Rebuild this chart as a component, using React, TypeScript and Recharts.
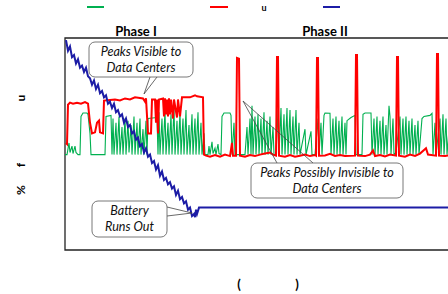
import { LineChart, Line, XAxis, YAxis, ReferenceArea } from "recharts";

// t = minutes since start, v = percent
const greenPts: [number, number][] = [
  [0, 45], [2, 45], [4, 50.5], [5, 46], [7, 49], [8, 45.5], [10, 49], [11, 46], [13, 45], [15, 45],
  [16, 63], [18, 64.6], [22, 64.6], [23, 64], [25, 55], [26, 45], [40, 45], [41, 63], [46, 63.5],
  [47, 45], [48, 62], [49, 45], [51, 60], [52, 45], [54, 63], [55, 45], [57, 58], [58, 45], [60, 62],
  [61, 45], [63, 61], [64, 46], [66, 59], [67, 45], [69, 63], [70, 45], [72, 60], [73, 45], [75, 62],
  [76, 45], [78, 57], [79, 45], [81, 61], [82, 45], [83, 62], [92, 62.5], [93, 45],
  [94, 65], [95, 45], [97, 62], [98, 45], [100, 66], [101, 45], [103, 60], [104, 45], [106, 64],
  [107, 45], [109, 67], [110, 45], [112, 61], [113, 45], [115, 65], [116, 45], [118, 62], [119, 45],
  [121, 66], [122, 45], [124, 59], [125, 45], [127, 64], [128, 45], [130, 62], [131, 45], [133, 65],
  [134, 45], [136, 60], [137, 45], [139, 55], [140, 45],
  [143, 45], [144, 49], [145, 45], [147, 51], [148, 45.5], [150, 48], [151, 45], [153, 50], [154, 45.5],
  [156, 45], [157, 63], [159, 64.6], [165, 64.6], [166, 63.5], [167, 45], [169, 60], [170, 45],
  [180, 45], [182, 58], [183, 45], [185, 62], [186, 45], [187, 68], [188, 45], [190, 63], [191, 45],
  [193, 64], [194, 45], [196, 62], [197, 45], [199, 65], [200, 45], [202, 61], [203, 45], [205, 63],
  [206, 45], [208, 58], [209, 45], [211, 45], [213, 66], [214, 45], [216, 67], [217, 45], [219, 64],
  [220, 45], [222, 67], [223, 45], [225, 66], [226, 45], [228, 63], [229, 45], [231, 66], [232, 45],
  [234, 60], [235, 45], [240, 57], [241, 45], [246, 56], [247, 45], [250, 45], [253, 62], [254, 45],
  [256, 60], [257, 45], [259, 63.5], [260, 64.6], [265, 64.5], [266, 45], [268, 62], [269, 45],
  [271, 63], [272, 45], [274, 61], [275, 45], [277, 63], [278, 45], [280, 60], [281, 45], [282, 61],
  [286, 62.5], [290, 63.5], [291, 45], [297, 45], [298, 64], [300, 64.6], [306, 64.6], [307, 45],
  [309, 62], [310, 45], [312, 63], [313, 45], [315, 61], [316, 45], [318, 63], [319, 45], [321, 59],
  [322, 45], [324, 68], [325, 63], [326, 45], [328, 62], [329, 45], [331, 46], [335, 63], [336, 45],
  [338, 62], [339, 45], [341, 63], [342, 45], [344, 61], [345, 45], [347, 62], [348, 45], [350, 59],
  [351, 45], [353, 61], [354, 45], [357, 62], [359, 63], [365, 63.5], [367, 64.5], [368, 45],
  [370, 60], [371, 45], [375, 62], [376, 45], [378, 64], [379, 45], [381, 62], [382, 45], [385, 63],
  [386, 45], [395, 45],
];

const redPts: [number, number][] = [
  [1, 50.5], [2, 50], [3, 68.5], [5, 69.5], [8, 69], [12, 69.5], [16, 69], [20, 69.8], [23, 69],
  [25, 60], [27, 55], [30, 55.5], [32, 60], [34, 61], [35, 55.5], [38, 55], [39, 70.5], [45, 70.8],
  [50, 71], [55, 70.5], [60, 71.5], [65, 71], [70, 72], [78, 71.5], [80, 70], [81, 71.5], [83, 55],
  [86, 55], [87, 71], [90, 71], [91, 60], [92, 71], [93, 55], [94, 71], [98, 71.5], [99, 63],
  [100, 71.5], [101, 64], [102, 71], [103, 63], [104, 71.5], [105, 64], [106, 71], [108, 62],
  [109, 71], [112, 62.5], [113, 71], [115, 63], [117, 72], [125, 72], [130, 73], [132, 72.5],
  [138, 72], [139, 45], [141, 44.5], [145, 44], [150, 44.8], [155, 44], [160, 45], [165, 44.3],
  [167, 50.5], [168, 44.5], [171, 44.5], [172, 90.6], [174, 90.2], [175, 44.5], [180, 44],
  [185, 44.8], [190, 44.3], [195, 45], [200, 45.5], [205, 46], [208, 45], [211, 44.5], [212, 91],
  [213, 91], [214, 44.5], [220, 44], [225, 44.8], [230, 44], [235, 44.5], [240, 45], [245, 44.3],
  [250, 44.8], [251, 44.5], [252, 90.6], [253, 90.6], [254, 44.5], [260, 44.6], [265, 45.4],
  [270, 44.4], [275, 44.8], [280, 44.3], [290, 44.5], [291, 92], [292, 92], [293, 44.5], [300, 44.3],
  [305, 45], [308, 47], [310, 44.3], [315, 44.8], [320, 44.1], [325, 45], [331, 44.5], [332, 91],
  [333, 91], [334, 44.5], [340, 44], [345, 45], [350, 44.4], [355, 45.5], [361, 48], [363, 45],
  [371, 44.5], [372, 92.5], [373, 92.5], [374, 44.5], [380, 44.3], [385, 44.8], [395, 44.5],
];

const bluePts: [number, number][] = [
  [1, 99], [3, 94], [5, 96], [7, 91], [9, 92], [11, 88], [13, 90], [15, 86], [17, 87], [19, 84],
  [21, 86], [23, 82], [25, 81], [27, 78], [29, 80], [31, 76], [33, 78], [35, 74], [37, 75], [39, 72],
  [41, 73], [43, 69], [45, 70], [47, 67], [49, 69], [51, 65], [53, 66], [55, 63], [57, 64], [59, 60],
  [61, 62], [63, 58], [65, 59], [67, 55], [69, 56], [71, 52], [73, 53], [75, 49], [77, 50], [79, 46],
  [81, 48], [83, 44], [85, 45], [87, 41], [89, 42], [91, 38], [93, 40], [95, 35], [97, 37], [99, 33],
  [101, 34], [103, 31], [105, 32], [107, 29], [109, 30], [111, 26], [113, 28], [115, 24], [117, 25],
  [119, 22], [121, 23], [123, 19], [125, 20], [127, 16], [129, 17], [130, 15.5], [131, 19],
  [132, 17], [134, 20], [395, 20],
];

const toRows = (pts: [number, number][]) => pts.map(([t, v]) => ({ t, v }));

const phaseLabels = ["Phase I", "Phase II"];

const font = "Lato, 'Open Sans', sans-serif";

function Callout({ x, y, w, h, lines, tail }: { x: number; y: number; w: number; h: number; lines: string[]; tail: string }) {
  return (
    <g>
      <path d={tail} fill="none" stroke="#444" strokeWidth={0.8} />
      <rect x={x} y={y} width={w} height={h} rx={6} fill="#fff" stroke="#555" strokeWidth={0.8} />
      {lines.map((l, i) => (
        <text key={l} x={x + w / 2} y={y + 14 + i * 16} textAnchor="middle" fontSize={12.6} fontStyle="italic" fill="#111" fontFamily={font}>
          {l}
        </text>
      ))}
    </g>
  );
}

export default function App() {
  return (
    <div style={{ position: "absolute", left: 0, top: 0, width: 448, height: 294, overflow: "hidden", background: "#fff" }}>
      <LineChart width={470} height={294} margin={{ top: 38, right: 10, bottom: 44, left: 65 }}>
        <XAxis type="number" dataKey="t" domain={[0, 395]} hide allowDataOverflow />
        <YAxis type="number" domain={[0, 100]} hide allowDataOverflow />
        <Line data={toRows(greenPts)} dataKey="v" type="linear" stroke="#00b050" strokeWidth={1.1} dot={false} isAnimationActive={false} />
        <Line data={toRows(redPts)} dataKey="v" type="linear" stroke="#ff0000" strokeWidth={2} dot={false} isAnimationActive={false} />
        <Line data={toRows(bluePts)} dataKey="v" type="linear" stroke="#1c1ca6" strokeWidth={2} dot={false} isAnimationActive={false} />
        <ReferenceArea x1={0} x2={395} y1={0} y2={100} fill="none" fillOpacity={0} stroke="#222" strokeWidth={1.3} ifOverflow="visible" />
      </LineChart>
      <svg width={448} height={294} style={{ position: "absolute", left: 0, top: 0, pointerEvents: "none" }}>
        <line x1={87} y1={7} x2={104} y2={7} stroke="#00b050" strokeWidth={2} />
        <line x1={210} y1={7} x2={228} y2={7} stroke="#ff0000" strokeWidth={2} />
        <line x1={323} y1={7} x2={340} y2={7} stroke="#1c1ca6" strokeWidth={2} />
        <text x={264} y={11} textAnchor="middle" fontSize={9} fontWeight="bold" fontFamily={font}>u</text>
        <text x={136} y={36} textAnchor="middle" fontSize={13} fontWeight="bold" fontFamily={font}>{phaseLabels[0]}</text>
        <text x={325} y={36} textAnchor="middle" fontSize={13} fontWeight="bold" fontFamily={font}>{phaseLabels[1]}</text>
        <text transform="translate(25,98) rotate(-90)" textAnchor="middle" fontSize={12} fontWeight="bold" fontFamily={font}>u</text>
        <text transform="translate(25,165) rotate(-90)" textAnchor="middle" fontSize={12} fontWeight="bold" fontFamily={font}>f</text>
        <text transform="translate(25,190) rotate(-90)" textAnchor="middle" fontSize={12} fontWeight="bold" fontFamily={font}>%</text>
        <text x={239} y={289} textAnchor="middle" fontSize={13} fontWeight="bold" fontFamily={font}>(</text>
        <text x={297} y={289} textAnchor="middle" fontSize={13} fontWeight="bold" fontFamily={font}>)</text>
        <Callout x={89} y={42} w={104} h={35} lines={["Peaks Visible to", "Data Centers"]} tail="M150,77 L144,94 L157,77" />
        <Callout x={251} y={163} w={152} h={35} lines={["Peaks Possibly Invisible to", "Data Centers"]} tail="M277,163 L243,101 L313,163" />
        <Callout x={92} y={201} w={75} h={36} lines={["Battery", "Runs Out"]} tail="M167,207 L192,213 L167,216" />
      </svg>
    </div>
  );
}
